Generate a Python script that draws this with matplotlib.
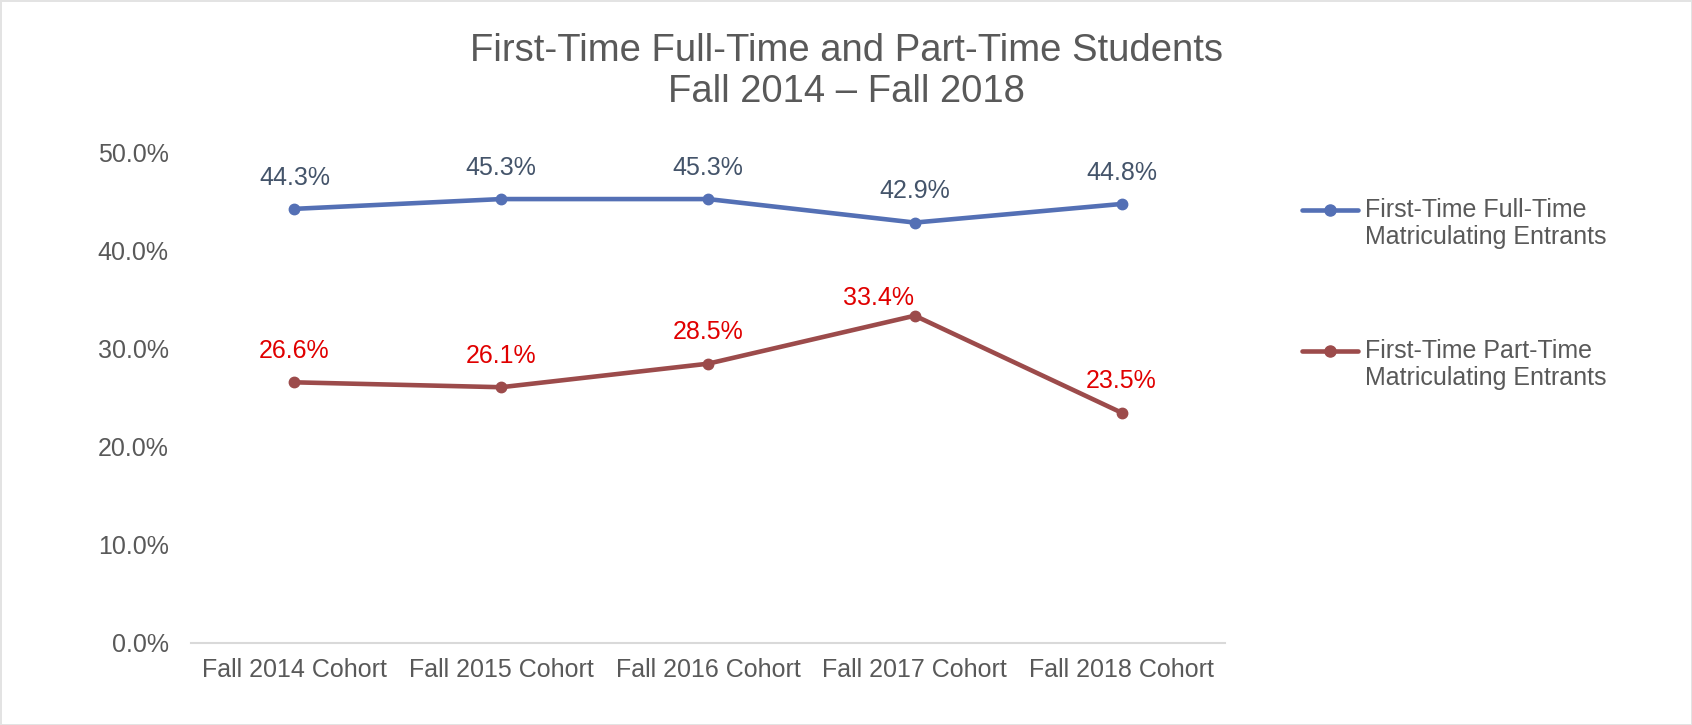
import matplotlib
matplotlib.use("Agg")
import matplotlib.pyplot as plt
from matplotlib.lines import Line2D
from matplotlib.ticker import FuncFormatter

plt.rcParams['font.family'] = ['Liberation Sans', 'DejaVu Sans']

# Datos
cohortes = ["Fall 2014 Cohort", "Fall 2015 Cohort", "Fall 2016 Cohort",
            "Fall 2017 Cohort", "Fall 2018 Cohort"]
tiempo_completo = [44.3, 45.3, 45.3, 42.9, 44.8]
tiempo_parcial = [26.6, 26.1, 28.5, 33.4, 23.5]
nombres = ["First-Time Full-Time\nMatriculating Entrants",
           "First-Time Part-Time\nMatriculating Entrants"]

gris = "#595959"
azul = "#5470b5"
rojo_linea = "#9c4b4b"
etiqueta_azul = "#44546a"
etiqueta_roja = "#e00000"

W, H = 1692, 725
fig = plt.figure(figsize=(W / 100, H / 100), dpi=100)
fig.patch.set_edgecolor("#e3e3e3")
fig.patch.set_linewidth(2)

ax = fig.add_axes([191 / W, (H - 643) / H, 1034 / W, 490 / H])
x = list(range(len(cohortes)))

series = [(tiempo_completo, azul, etiqueta_azul), (tiempo_parcial, rojo_linea, etiqueta_roja)]
for s, (valores, color, col_etq) in enumerate(series):
    ax.plot(x, valores, color=color, linewidth=3.3, marker="o", markersize=7.5,
            solid_capstyle="round", zorder=3)
    for xi, v in zip(x, valores):
        desplazamiento = (0, 22.5)
        if s == 1 and xi == 3:  # la etiqueta del pico va arriba a la izquierda
            desplazamiento = (-26, 13)
        ax.annotate(f"{v:.1f}%", (xi, v), xytext=desplazamiento, textcoords="offset points",
                    ha="center", va="center", fontsize=18, color=col_etq)

ax.set_xlim(-0.5, len(cohortes) - 0.5)
ax.set_ylim(0, 50)
ax.set_yticks([0, 10, 20, 30, 40, 50])
ax.yaxis.set_major_formatter(FuncFormatter(lambda v, p: f"{v:.1f}%"))
ax.set_xticks(x)
ax.set_xticklabels(cohortes)
ax.tick_params(axis="both", length=0, labelsize=18, labelcolor=gris)
ax.tick_params(axis="x", pad=11)
ax.tick_params(axis="y", pad=16)
for lado in ["top", "right", "left"]:
    ax.spines[lado].set_visible(False)
ax.spines["bottom"].set_color("#d9d9d9")
ax.spines["bottom"].set_linewidth(1.5)

# Titulo
fig.text(0.5, 1 - 51 / H, "First-Time Full-Time and Part-Time Students",
         ha="center", va="center", fontsize=27.5, color=gris)
fig.text(0.5, 1 - 91.5 / H, "Fall 2014 \u2013 Fall 2018",
         ha="center", va="center", fontsize=27.5, color=gris)

# Leyenda manual (marcador alineado con la primera linea)
for nombre, (_, color, _), y_px in zip(nombres, series, [210, 351]):
    yf = 1 - y_px / H
    fig.add_artist(Line2D([1302 / W, 1358 / W], [yf, yf], color=color, linewidth=3.3,
                          solid_capstyle="round", transform=fig.transFigure))
    fig.add_artist(Line2D([1330 / W], [yf], color=color, marker="o", markersize=8,
                          transform=fig.transFigure))
    lineas = nombre.split("\n")
    for i, linea in enumerate(lineas):
        fig.text(1365 / W, 1 - (y_px + 27 * i) / H, linea, ha="left", va="center",
                 fontsize=18, color=gris)

fig.savefig("out.png", dpi=100)
